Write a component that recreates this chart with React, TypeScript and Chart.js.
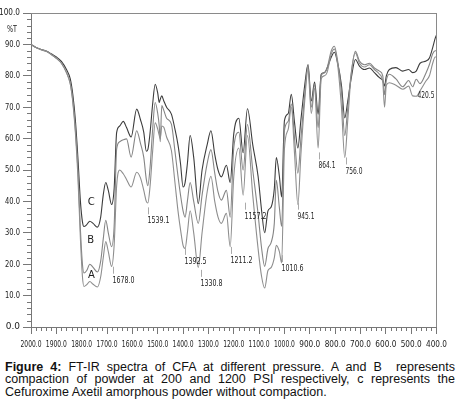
import React, { useEffect, useRef } from "react";
import { Chart, registerables } from "chart.js";
Chart.register(...registerables);

// wavenumber (cm-1) sampling shared by the three spectra
const wavenumbers = [
  2000, 1980, 1960, 1940, 1920, 1900, 1880, 1860, 1845, 1835, 1825, 1815, 1805, 1797, 1791, 1780, 1768, 1755, 1738, 1725,
  1715, 1705, 1695, 1682, 1672, 1662, 1650, 1636, 1623, 1605, 1583, 1568, 1555, 1545, 1539, 1530, 1520, 1510, 1500, 1494,
  1490, 1484, 1476, 1465, 1446, 1432, 1420, 1410, 1400, 1392, 1383, 1372, 1358, 1340, 1325, 1305, 1290, 1275, 1262, 1249,
  1229, 1214, 1200, 1180, 1163, 1146, 1125, 1104, 1090, 1078, 1065, 1052, 1040, 1032, 1020, 1011, 1000, 985, 973, 960,
  947, 935, 920, 907, 894, 881, 867, 855, 842, 832, 815, 803, 790, 775, 762, 750, 737, 720, 704, 684,
  664, 645, 625, 612, 605, 598, 586, 560, 533, 510, 494, 480, 465, 441, 428, 415, 405, 400,
];

// C: amorphous powder without compaction (%T)
const seriesC = [
  90, 89, 88.4, 87.9, 87, 86, 84.6, 82, 79, 74, 66, 54, 40, 33.5, 32, 32.6, 33.7, 33, 31.8, 35,
  42, 46, 43.5, 39, 44, 62, 64, 65.5, 63.5, 60.5, 69.4, 66, 62, 56, 56.5, 62, 71, 77.3, 74.5, 71.5,
  72.5, 73.6, 72, 70, 67.8, 63, 58, 52, 44.6, 46, 52, 61, 54, 39.3, 50, 58, 62.5, 55, 50, 47.8,
  51.5, 46, 61.5, 66.5, 55.5, 69.5, 58, 48, 37, 30, 37, 38.3, 44, 54, 48, 41.4, 65.7, 68, 74.1, 65,
  57, 66, 77, 83.6, 72, 78, 67.8, 80.5, 81, 82.4, 86, 87.5, 84, 77, 66.6, 72, 79, 85.2, 83.1, 82,
  82.5, 81, 79.4, 78.5, 76.8, 80, 82, 82.6, 81.5, 82, 81, 81.5, 84, 84.7, 85.7, 89, 92, 93,
];

// B: compacted at 1200 PSI (%T)
const seriesB = [
  90, 89, 88.3, 87.8, 86.8, 85.6, 84, 81, 77.5, 72, 63, 50, 31, 20, 17.2, 18, 20, 19, 17.5, 21,
  28, 34, 30, 25.6, 32, 56.7, 59, 59.6, 59.9, 54.1, 62.5, 58.5, 54, 47, 45, 51, 63, 71.5, 68, 64,
  59, 70.5, 69, 66.5, 64.6, 56, 48, 42, 37, 35, 40, 46, 40, 33, 42, 52, 56.5, 49, 43, 40.4,
  43.5, 35, 57, 62, 50, 64.5, 50, 36, 25, 19.3, 25, 27, 33, 46.7, 38, 32, 62.5, 65.5, 71, 60,
  49, 60, 74, 83, 70, 77.3, 63.5, 80, 81, 82.4, 88, 89.4, 84.7, 75, 61, 70, 80.5, 87.8, 84.7, 83.5,
  84, 82.5, 81.5, 80, 74, 78.5, 80.5, 79, 76.5, 78.5, 76.5, 78.9, 77.5, 81, 83.6, 87, 88, 88,
];

// A: compacted at 200 PSI (%T)
const seriesA = [
  90, 89, 88.3, 87.8, 86.8, 85.6, 84, 81, 77.4, 71.5, 62, 48, 28, 16, 12.9, 13.5, 14.5, 13.6, 12.75, 16,
  22, 27.2, 24, 19.3, 26, 45, 50, 48.8, 47, 44.6, 49.3, 47.5, 43.5, 40, 39.5, 45, 56, 65, 63, 61,
  60, 64, 63.6, 60.5, 56.2, 46, 37, 31, 26, 25, 30, 37, 30, 19, 30, 43, 48, 40, 35, 33,
  36.2, 25.6, 47.8, 57, 42, 61, 42, 25, 16, 12.4, 18, 19, 22, 26, 24, 20.4, 56.7, 63, 70, 55,
  39, 55, 72, 82, 68, 76, 57, 79, 80, 81, 87, 88.5, 83.5, 70, 54, 66, 80, 87.3, 84, 82.8,
  83.5, 82, 80.5, 78, 70, 77, 77.8, 77, 75.7, 76.7, 73.6, 73.5, 75.2, 78.4, 80, 84, 86, 86,
];

const xTickValues = [2000, 1900, 1800, 1700, 1600, 1500, 1400, 1300, 1200, 1100, 1000, 900, 800, 700, 600, 500, 400];
const yTickValues = [0, 10, 20, 30, 40, 50, 60, 70, 80, 90, 100];

// annotated band positions
const peakLabels = ["1678.0", "1539.1", "1392.5", "1330.8", "1211.2", "1157.2", "1010.6", "945.1", "864.1", "756.0"];
const peakWavenumbers = [1678.0, 1539.1, 1392.5, 1330.8, 1211.2, 1157.2, 1010.6, 945.1, 864.1, 756.0];
const peakTickTops = [19.2, 38.1, 25.2, 18.2, 25.5, 39.6, 22.9, 39.6, 55.6, 54.0];
const extraLabel = "420.5";
const extraLabelWn = 475;
const extraLabelT = 73.6;

const curveNames = ["C", "B", "A"];
const curveNameWn = [1762, 1765, 1762];
const curveNameT = [39.8, 27.5, 16.3];

const FONT = '"DejaVu Sans", Verdana, sans-serif';

export default function App() {
  const ref = useRef<HTMLCanvasElement>(null);

  useEffect(() => {
    const canvas = ref.current;
    if (!canvas) return;
    const pts = (vals: number[]) => wavenumbers.map((w, i) => ({ x: w, y: vals[i] }));

    const plugin = {
      id: "ftirDecor",
      afterDraw(chart: any) {
        const { ctx, chartArea: ca, scales } = chart;
        const x = scales.x;
        const y = scales.y;
        ctx.save();
        // frame top & right
        ctx.strokeStyle = "#8a8a8a";
        ctx.lineWidth = 1;
        ctx.beginPath();
        ctx.moveTo(ca.left, Math.round(ca.top) + 0.5);
        ctx.lineTo(ca.right, Math.round(ca.top) + 0.5);
        ctx.moveTo(Math.round(ca.right) - 0.5, ca.top);
        ctx.lineTo(Math.round(ca.right) - 0.5, ca.bottom);
        ctx.stroke();
        // minor ticks
        ctx.strokeStyle = "#777";
        ctx.beginPath();
        for (let v = 400; v <= 2000; v += 20) {
          if (v % 100 === 0) continue;
          const px = Math.round(x.getPixelForValue(v)) + 0.5;
          ctx.moveTo(px, ca.bottom);
          ctx.lineTo(px, ca.bottom + 4);
        }
        for (let v = 0; v <= 100; v += 2) {
          if (v % 10 === 0) continue;
          const py = Math.round(y.getPixelForValue(v)) + 0.5;
          ctx.moveTo(ca.left - 4, py);
          ctx.lineTo(ca.left, py);
        }
        ctx.stroke();
        ctx.fillStyle = "#222";
        ctx.textBaseline = "middle";
        // x tick labels (condensed)
        ctx.font = `8px ${FONT}`;
        ctx.textAlign = "center";
        for (const v of xTickValues) {
          ctx.fillText(v.toFixed(1), x.getPixelForValue(v), ca.bottom + 18, 21);
        }
        // y tick labels
        ctx.font = `9px ${FONT}`;
        ctx.textAlign = "right";
        for (const v of yTickValues) {
          ctx.fillText(v.toFixed(1), ca.left - 11, y.getPixelForValue(v), v === 100 ? 21 : 15);
        }
        // %T
        ctx.textAlign = "center";
        ctx.fillText("%T", ca.left - 19, y.getPixelForValue(94.8), 10);
        // band labels
        ctx.font = `8px ${FONT}`;
        ctx.textAlign = "left";
        ctx.strokeStyle = "#aaa";
        for (let i = 0; i < peakLabels.length; i++) {
          const px = Math.round(x.getPixelForValue(peakWavenumbers[i])) + 0.5;
          const py = y.getPixelForValue(peakTickTops[i]);
          ctx.beginPath();
          ctx.moveTo(px, py);
          ctx.lineTo(px, py + 7);
          ctx.stroke();
          ctx.fillText(peakLabels[i], px - 1, py + 14, peakLabels[i].length > 5 ? 22 : 17);
        }
        ctx.fillText(extraLabel, x.getPixelForValue(extraLabelWn), y.getPixelForValue(extraLabelT), 17);
        // curve letters
        ctx.font = `10px ${FONT}`;
        ctx.textAlign = "center";
        for (let i = 0; i < curveNames.length; i++) {
          ctx.fillText(curveNames[i], x.getPixelForValue(curveNameWn[i]), y.getPixelForValue(curveNameT[i]));
        }
        ctx.restore();
      },
    };

    const chart = new Chart(canvas, {
      type: "line",
      data: {
        datasets: [
          { label: "A", data: pts(seriesA), borderColor: "#8e8e8e", borderWidth: 1.1 },
          { label: "B", data: pts(seriesB), borderColor: "#858585", borderWidth: 1.1 },
          { label: "C", data: pts(seriesC), borderColor: "#3c3c3c", borderWidth: 1.1 },
        ],
      },
      options: {
        animation: false,
        responsive: false,
        layout: { padding: { left: 0, right: 23.5, top: 13, bottom: 0 } },
        plugins: { legend: { display: false }, tooltip: { enabled: false } },
        elements: {
          point: { radius: 0 },
          line: { cubicInterpolationMode: "monotone", fill: false },
        },
        scales: {
          x: {
            type: "linear",
            reverse: true,
            min: 400,
            max: 2000,
            afterBuildTicks: (s: any) => {
              s.ticks = xTickValues.map((v) => ({ value: v }));
            },
            afterFit: (s: any) => {
              s.height = 31;
            },
            ticks: { display: false },
            grid: { drawOnChartArea: false, tickLength: 7, color: "#777" },
            border: { color: "#777" },
          },
          y: {
            min: 0,
            max: 100,
            afterBuildTicks: (s: any) => {
              s.ticks = yTickValues.map((v) => ({ value: v }));
            },
            afterFit: (s: any) => {
              s.width = 31;
            },
            ticks: { display: false },
            grid: { drawOnChartArea: false, tickLength: 8, color: "#777" },
            border: { color: "#777" },
          },
        },
      },
      plugins: [plugin],
    } as any);
    return () => chart.destroy();
  }, []);

  return (
    <div style={{ position: "absolute", left: 0, top: 0, width: 460, height: 409, background: "#fff", overflow: "hidden" }}>
      <canvas ref={ref} width={460} height={358} style={{ display: "block" }} />
      <div
        style={{
          position: "absolute",
          left: 5,
          top: 361,
          width: 450,
          fontFamily: '"Liberation Sans", Arial, sans-serif',
          fontSize: 12.5,
          lineHeight: "12.3px",
          color: "#111",
        }}
      >
        <div style={{ textAlign: "justify", textAlignLast: "justify" }}>
          <b>Figure 4:</b> FT-IR spectra of CFA at different pressure. A and B&nbsp; represents
        </div>
        <div style={{ textAlign: "justify", textAlignLast: "justify" }}>
          compaction of powder at 200 and 1200 PSI respectively, c represents the
        </div>
        <div>Cefuroxime Axetil amorphous powder without compaction.</div>
      </div>
    </div>
  );
}
